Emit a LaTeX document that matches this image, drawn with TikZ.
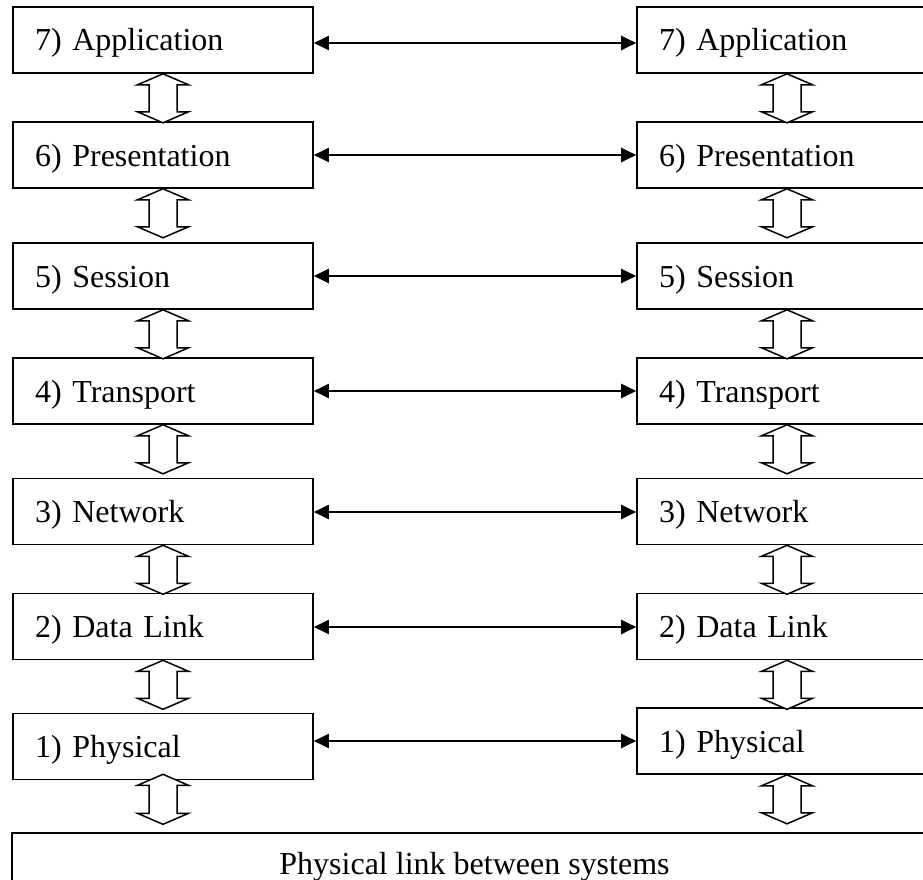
\documentclass[tikz,border=0pt]{standalone}
\usepackage{fontspec}
\setmainfont{Liberation Serif}
\usetikzlibrary{arrows.meta,calc}
\tikzset{
  layer/.style={draw, line width=1.6pt, minimum width=300pt, minimum height=66pt,
    text width=256pt, inner xsep=22pt, inner ysep=0pt, align=left,
    text height=22pt, text depth=0pt, font=\fontsize{32}{38}\selectfont},
  base/.style={draw, line width=1.6pt, minimum width=925pt, minimum height=66pt,
    inner sep=0pt, text height=16pt, text depth=0pt, font=\fontsize{32}{38}\selectfont},
  link/.style={line width=2pt, {Triangle[length=15pt,width=14pt]}-{Triangle[length=15pt,width=14pt]}},
  hollowarrow/.style={draw, line width=1.5pt, fill=white, line join=miter}
}
\newcommand{\dbl}[2]{\draw[hollowarrow] (#1) -- ++(25.5,11) -- ++(-11.5,0) -- ++(0,#2-22) -- ++(11.5,0) -- ++(-25.5,11) -- ++(-25.5,-11) -- ++(11.5,0) -- ++(0,-#2+22) -- ++(-11.5,0) -- cycle;}
\begin{document}
\begin{tikzpicture}[x=1pt,y=-1pt]
\useasboundingbox (0,0) rectangle (923,880);
\clip (0,0) rectangle (923,880);
\fill[white] (0,0) rectangle (923,880);
% left stack
\node[layer] (L7) at (163,40) {7) Application};
\node[layer] (L6) at (163,155) {6) Presentation};
\node[layer] (L5) at (163,276) {5) Session};
\node[layer] (L4) at (163,391) {4) Transport};
\node[layer] (L3) at (163,511.5) {3) Network};
\node[layer] (L2) at (163,626.5) {2) Data Link};
\node[layer] (L1) at (163,746.5) {1) Physical};
% right stack
\node[layer] (R7) at (787,40) {7) Application};
\node[layer] (R6) at (787,155) {6) Presentation};
\node[layer] (R5) at (787,276) {5) Session};
\node[layer] (R4) at (787,391) {4) Transport};
\node[layer] (R3) at (787,511.5) {3) Network};
\node[layer] (R2) at (787,626.5) {2) Data Link};
\node[layer] (R1) at (787,741) {1) Physical};
% base
\node[base] (B) at (474.5,866) {Physical link between systems};
% peer links
\draw[link] ([yshift=-3pt]L7.east) -- ([yshift=-3pt]R7.west);
\draw[link] (L6.east) -- (R6.west);
\draw[link] (L5.east) -- (R5.west);
\draw[link] (L4.east) -- (R4.west);
\draw[link] ([yshift=-0.5pt]L3.east) -- ([yshift=-0.5pt]R3.west);
\draw[link] ([yshift=-0.5pt]L2.east) -- ([yshift=-0.5pt]R2.west);
\draw[link] (L1.east |- R1.west) -- (R1.west);
% vertical hollow double arrows
\dbl{L7.south}{49}
\dbl{L6.south}{49}
\dbl{L5.south}{49}
\dbl{L4.south}{49}
\dbl{L3.south}{49}
\dbl{L2.south}{49}
\dbl{$(L1.south)+(0,-6)$}{50}
\dbl{R7.south}{49}
\dbl{R6.south}{49}
\dbl{R5.south}{49}
\dbl{R4.south}{49}
\dbl{R3.south}{49}
\dbl{R2.south}{49}
\dbl{R1.south}{49}
\end{tikzpicture}
\end{document}
